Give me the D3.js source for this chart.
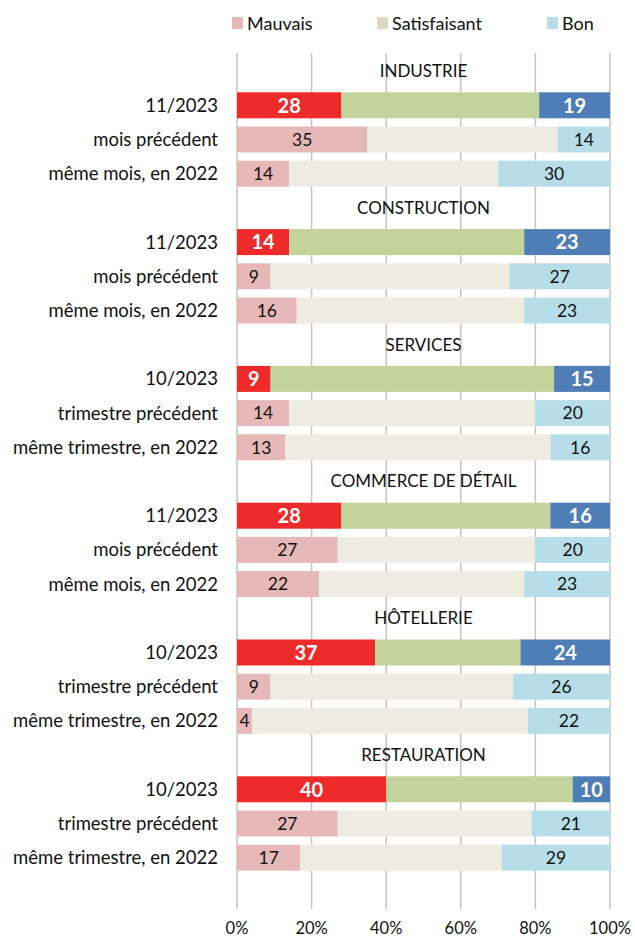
<!DOCTYPE html>
<html>
<head>
<meta charset="utf-8">
<script src="https://cdn.jsdelivr.net/npm/d3@7"></script>
<style>
  body { margin: 0; background: #fff; }
  svg text { font-family: Lato, "Open Sans", sans-serif; fill: #111; }
</style>
</head>
<body>
<div id="chart"></div>
<script>
// sectors and the three rows shown for each
const sectors = ["INDUSTRIE", "CONSTRUCTION", "SERVICES", "COMMERCE DE DÉTAIL", "HÔTELLERIE", "RESTAURATION"]
const rowLabels = [
  ["11/2023", "mois précédent", "même mois, en 2022"],
  ["11/2023", "mois précédent", "même mois, en 2022"],
  ["10/2023", "trimestre précédent", "même trimestre, en 2022"],
  ["11/2023", "mois précédent", "même mois, en 2022"],
  ["10/2023", "trimestre précédent", "même trimestre, en 2022"],
  ["10/2023", "trimestre précédent", "même trimestre, en 2022"]
]
// values in %, per sector: [current, previous, same period last year]
const mauvais = [
  [28, 35, 14],
  [14, 9, 16],
  [9, 14, 13],
  [28, 27, 22],
  [37, 9, 4],
  [40, 27, 17]
]
const satisfaisant = [
  [53, 51, 56],
  [63, 64, 61],
  [76, 66, 71],
  [56, 53, 55],
  [39, 65, 74],
  [50, 52, 54]
]
const bon = [
  [19, 14, 30],
  [23, 27, 23],
  [15, 20, 16],
  [16, 20, 23],
  [24, 26, 22],
  [10, 21, 29]
]
const legendLabels = ["Mauvais", "Satisfaisant", "Bon"]
const xTicks = [0, 20, 40, 60, 80, 100]

const colorsNow = ["#ee2a2a", "#c2d39c", "#4f7db5"]
const colorsOld = ["#e6b8b7", "#eeece1", "#b7dde8"]
const colorsLegend = ["#e6b8b7", "#ddd9c4", "#b7dde8"]

const width = 635, height = 943
const margin = { left: 237, right: 25, top: 54, bottom: 33 }

const svg = d3.select("#chart").append("svg")
  .attr("width", width)
  .attr("height", height)

// one row per header + three bars per sector
const rows = []
sectors.forEach((s, i) => {
  rows.push({ id: "h" + i, header: s })
  rowLabels[i].forEach((lab, j) => {
    rows.push({
      id: i + "-" + j,
      label: lab,
      current: j === 0,
      values: [mauvais[i][j], satisfaisant[i][j], bon[i][j]]
    })
  })
})

const x = d3.scaleLinear().domain([0, 100]).range([margin.left, width - margin.right])
const y = d3.scaleBand()
  .domain(rows.map(d => d.id))
  .range([54, 54 + 34.2 * 24])
  .paddingInner(0.24)
  .paddingOuter(0.12)

// gridlines
svg.append("g")
  .selectAll("line")
  .data(xTicks)
  .join("line")
  .attr("x1", d => x(d)).attr("x2", d => x(d))
  .attr("y1", 53).attr("y2", 909)
  .attr("stroke", "#c4c4c4")
  .attr("stroke-width", 1.5)

// x labels
svg.append("g")
  .selectAll("text")
  .data(xTicks)
  .join("text")
  .attr("x", d => x(d))
  .attr("y", 934)
  .attr("text-anchor", "middle")
  .attr("font-size", 16.5)
  .text(d => d + "%")

// section headers
svg.append("g")
  .selectAll("text")
  .data(rows.filter(d => d.header))
  .join("text")
  .attr("x", (x(0) + x(100)) / 2)
  .attr("y", d => y(d.id) + y.bandwidth() / 2)
  .attr("dy", "0.35em")
  .attr("text-anchor", "middle")
  .attr("font-size", 17)
  .text(d => d.header)

const barRows = rows.filter(d => !d.header)

// category labels
svg.append("g")
  .selectAll("text")
  .data(barRows)
  .join("text")
  .attr("x", 218)
  .attr("y", d => y(d.id) + y.bandwidth() / 2)
  .attr("dy", "0.35em")
  .attr("text-anchor", "end")
  .attr("font-size", 18.5)
  .text(d => d.label)

// stacked segments
const segs = []
barRows.forEach(r => {
  let start = 0
  r.values.forEach((v, k) => {
    segs.push({ row: r, k, v, x0: start, x1: start + v })
    start += v
  })
})

const g = svg.append("g")
g.selectAll("rect")
  .data(segs)
  .join("rect")
  .attr("x", d => x(d.x0))
  .attr("width", d => x(d.x1) - x(d.x0))
  .attr("y", d => y(d.row.id))
  .attr("height", y.bandwidth())
  .attr("fill", d => (d.row.current ? colorsNow : colorsOld)[d.k])

// value labels on Mauvais and Bon
g.selectAll("text")
  .data(segs.filter(d => d.k !== 1))
  .join("text")
  .attr("x", d => (x(d.x0) + x(d.x1)) / 2)
  .attr("y", d => y(d.row.id) + y.bandwidth() / 2)
  .attr("dy", "0.36em")
  .attr("text-anchor", "middle")
  .attr("font-size", d => d.row.current ? 20 : 17.5)
  .attr("font-weight", d => d.row.current ? "bold" : "normal")
  .style("fill", d => d.row.current ? "#fff" : "#111")
  .text(d => d.v)

// legend
const legendX = [232, 377, 547]
const leg = svg.append("g")
  .selectAll("g")
  .data(legendLabels)
  .join("g")
  .attr("transform", (d, i) => `translate(${legendX[i]},0)`)
leg.append("rect")
  .attr("x", 0).attr("y", 17)
  .attr("width", 11).attr("height", 12)
  .attr("fill", (d, i) => colorsLegend[i])
leg.append("text")
  .attr("x", 15).attr("y", 23.5)
  .attr("dy", "0.35em")
  .attr("font-size", 18)
  .text(d => d)
</script>
</body>
</html>
